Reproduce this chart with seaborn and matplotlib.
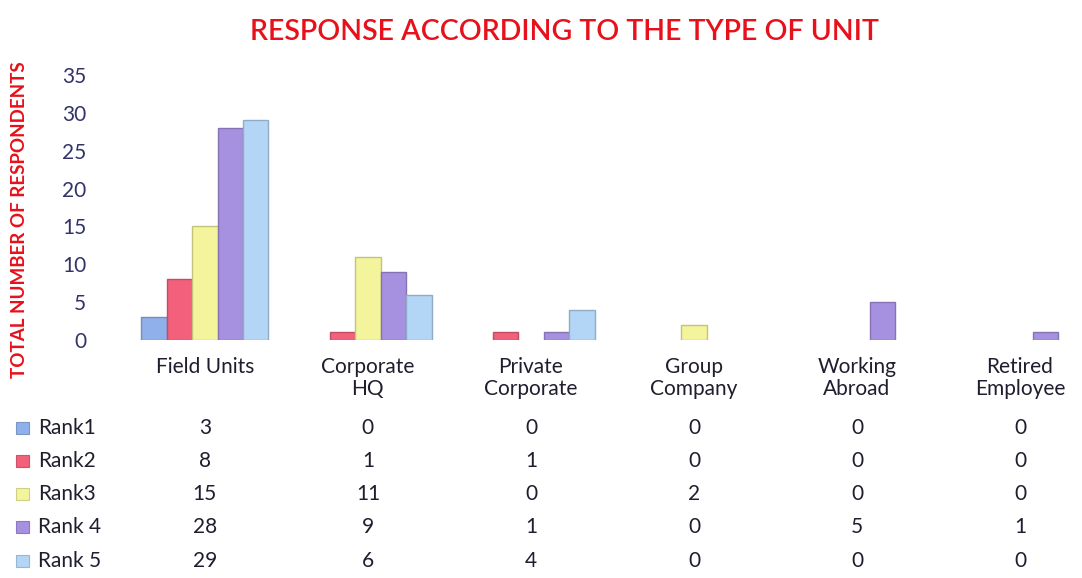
import matplotlib
matplotlib.use("Agg")
import matplotlib.pyplot as plt
import matplotlib.colors as mcolors
import matplotlib.transforms as mtransforms
import seaborn as sns
import pandas as pd

# Survey responses by unit type and rank
units = ["Field Units", "Corporate\nHQ", "Private\nCorporate", "Group\nCompany",
         "Working\nAbroad", "Retired\nEmployee"]
ranks = ["Rank1", "Rank2", "Rank3", "Rank 4", "Rank 5"]
rank1 = [3, 0, 0, 0, 0, 0]
rank2 = [8, 1, 1, 0, 0, 0]
rank3 = [15, 11, 0, 2, 0, 0]
rank4 = [28, 9, 1, 0, 5, 1]
rank5 = [29, 6, 4, 0, 0, 0]
yticks = [0, 5, 10, 15, 20, 25, 30, 35]

palette = ["#8fb0ea", "#f2607c", "#f4f49c", "#a690e0", "#b4d6f6"]
series = [rank1, rank2, rank3, rank4, rank5]

rows = []
for rname, vals in zip(ranks, series):
    for u, v in zip(units, vals):
        rows.append({"unit": u, "rank": rname, "count": v})
df = pd.DataFrame(rows)

sns.set_theme(style="white")
plt.rcParams["font.family"] = ["Lato", "DejaVu Sans"]

fig = plt.figure(figsize=(10.82, 5.78), dpi=100)
ax = fig.add_axes([125 / 1082, 1 - 340 / 578, (1082 - 125) / 1082, (340 - 75) / 578])

sns.barplot(data=df, x="unit", y="count", hue="rank", order=units, hue_order=ranks,
            palette=palette, width=0.78, ax=ax, legend=False, saturation=1)

def darker(col, f=0.8):
    return tuple(c * f for c in mcolors.to_rgb(col))

for bar in ax.patches:
    if bar.get_height() == 0:
        bar.set_visible(False)
        continue
    bar.set_edgecolor(darker(bar.get_facecolor()[:3]))
    bar.set_linewidth(1.0)

ax.set_ylim(0, 35)
ax.set_xlim(-0.49, 5.38)
ax.set_yticks(yticks)
ax.set_yticklabels([str(t) for t in yticks], color="#33336a", fontsize=15)
ax.tick_params(axis="y", length=0, pad=28)
ax.tick_params(axis="x", length=0, pad=12)
ax.set_xticks(range(len(units)))
ax.set_xticklabels(units, fontsize=15, color="#1e1e2e", linespacing=1.15)
ax.set_xlabel("")
ax.set_ylabel("")
for s in ax.spines.values():
    s.set_visible(False)
ax.grid(False)

fig.text(0.522, 0.945, "RESPONSE ACCORDING TO THE TYPE OF UNIT", color="#e8101a",
         fontsize=20.5, fontweight="semibold", ha="center", va="center")
fig.text(0.018, 0.62, "TOTAL NUMBER OF RESPONDENTS", color="#e8101a", fontsize=13.5,
         fontweight="bold", rotation=90, ha="center", va="center")

# Data table below the chart
trans = mtransforms.blended_transform_factory(ax.transData, fig.transFigure)
row_y = [428, 461, 494, 527, 561]
for i, (rname, vals, col) in enumerate(zip(ranks, series, palette)):
    yf = 1 - row_y[i] / 578
    fig.patches.append(plt.Rectangle((16 / 1082, yf - 0.011), 13 / 1082, 0.022,
                                     transform=fig.transFigure, facecolor=col,
                                     edgecolor=darker(col, 0.85), linewidth=0.8))
    fig.text(38 / 1082, yf, rname, fontsize=15, color="#1e1e2e", ha="left", va="center")
    for j, v in enumerate(vals):
        ax.text(j, yf, str(v), transform=trans, fontsize=15, color="#1e1e2e",
                ha="center", va="center")

fig.savefig("out.png", dpi=100, facecolor="white")
